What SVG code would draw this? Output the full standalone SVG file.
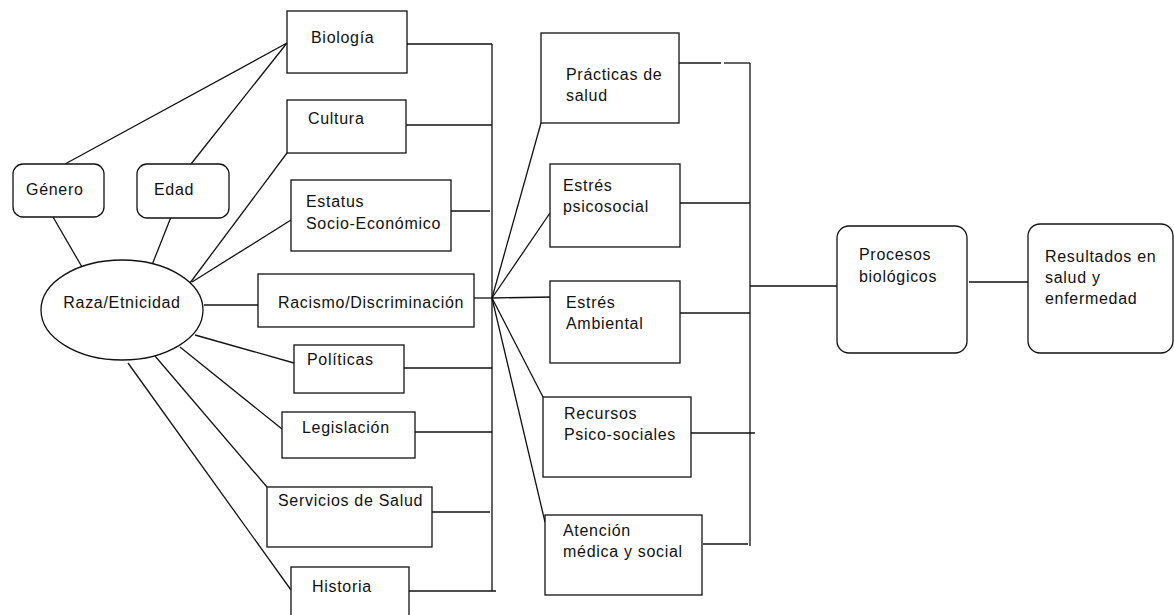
<svg xmlns="http://www.w3.org/2000/svg" width="1174" height="615" viewBox="0 0 1174 615">
<style>
.b{fill:#fff;stroke:#111;stroke-width:1.3}
.c line{stroke:#111;stroke-width:1.3;fill:none}
text{font-family:"Liberation Sans",Arial,sans-serif;font-size:16px;fill:#111;letter-spacing:0.7px}
</style>
<rect width="1174" height="615" fill="#fff"/>
<g class="c" id="connectors">
<line x1="65" y1="164" x2="287" y2="43"/>
<line x1="191" y1="164" x2="287" y2="43"/>
<line x1="53" y1="217" x2="82" y2="267"/>
<line x1="171" y1="217" x2="152" y2="265"/>
<line x1="287" y1="153" x2="190" y2="283"/>
<line x1="291" y1="220" x2="192" y2="282"/>
<line x1="204" y1="305" x2="258" y2="305"/>
<line x1="195" y1="335" x2="294" y2="363"/>
<line x1="180" y1="347" x2="282" y2="429"/>
<line x1="155" y1="356" x2="267" y2="487"/>
<line x1="128" y1="363" x2="291" y2="590"/>
<line x1="407" y1="44" x2="492" y2="44"/>
<line x1="492" y1="44" x2="492" y2="591"/>
<line x1="406" y1="125" x2="492" y2="125"/>
<line x1="451" y1="211" x2="490" y2="211"/>
<line x1="474" y1="298" x2="492" y2="298"/>
<line x1="404" y1="368" x2="492" y2="368"/>
<line x1="413" y1="432" x2="492" y2="432"/>
<line x1="432" y1="512" x2="490" y2="512"/>
<line x1="409" y1="591" x2="496" y2="591"/>
<line x1="492" y1="298" x2="541" y2="123"/>
<line x1="492" y1="298" x2="550" y2="213"/>
<line x1="492" y1="298" x2="553" y2="297"/>
<line x1="492" y1="298" x2="543" y2="397"/>
<line x1="492" y1="298" x2="545" y2="522"/>
<line x1="750" y1="63" x2="750" y2="546"/>
<line x1="679" y1="63" x2="721" y2="63"/>
<line x1="724" y1="63" x2="750" y2="63"/>
<line x1="680" y1="203" x2="750" y2="203"/>
<line x1="679" y1="313" x2="750" y2="313"/>
<line x1="691" y1="433" x2="755" y2="433"/>
<line x1="703" y1="544" x2="748" y2="544"/>
<line x1="750" y1="286" x2="837" y2="286"/>
<line x1="969" y1="282" x2="1028" y2="282"/>
</g>
<g id="genero"><rect class="b" x="13" y="164" width="91" height="53" rx="10"/><text x="26" y="195">Género</text></g>
<g id="edad"><rect class="b" x="137" y="164" width="92" height="54" rx="10"/><text x="154" y="195">Edad</text></g>
<g id="raza"><ellipse class="b" cx="122" cy="310" rx="81" ry="50"/><text x="122" y="308" text-anchor="middle">Raza/Etnicidad</text></g>
<g id="biologia"><rect class="b" x="287" y="11" width="120" height="62"/><text x="311" y="43">Biología</text></g>
<g id="cultura"><rect class="b" x="287" y="100" width="119" height="53"/><text x="308" y="124">Cultura</text></g>
<g id="estatus"><rect class="b" x="291" y="180" width="160" height="71"/><text x="306" y="207">Estatus</text><text x="306" y="229">Socio-Económico</text></g>
<g id="racismo"><rect class="b" x="258" y="274" width="216" height="53"/><text x="278" y="308">Racismo/Discriminación</text></g>
<g id="politicas"><rect class="b" x="294" y="345" width="110" height="48"/><text x="307" y="365">Políticas</text></g>
<g id="legislacion"><rect class="b" x="282" y="412" width="133" height="46"/><text x="302" y="433">Legislación</text></g>
<g id="servicios"><rect class="b" x="267" y="487" width="165" height="60"/><text x="278" y="506">Servicios de Salud</text></g>
<g id="historia"><rect class="b" x="291" y="567" width="118" height="70"/><text x="312" y="592">Historia</text></g>
<g id="practicas"><rect class="b" x="541" y="33" width="138" height="90"/><text x="566" y="80">Prácticas de</text><text x="566" y="101">salud</text></g>
<g id="psicosocial"><rect class="b" x="550" y="164" width="130" height="83"/><text x="563" y="191">Estrés</text><text x="563" y="212">psicosocial</text></g>
<g id="ambiental"><rect class="b" x="550" y="281" width="130" height="82"/><text x="566" y="308">Estrés</text><text x="566" y="329">Ambiental</text></g>
<g id="recursos"><rect class="b" x="543" y="397" width="148" height="80"/><text x="564" y="419">Recursos</text><text x="564" y="440">Psico-sociales</text></g>
<g id="atencion"><rect class="b" x="545" y="515" width="157" height="80"/><text x="563" y="536">Atención</text><text x="563" y="557">médica y social</text></g>
<g id="procesos"><rect class="b" x="837" y="226" width="130" height="127" rx="12"/><text x="859" y="260">Procesos</text><text x="859" y="282">biológicos</text></g>
<g id="resultados"><rect class="b" x="1028" y="224" width="145" height="129" rx="12"/><text x="1045" y="262">Resultados en</text><text x="1045" y="283">salud y</text><text x="1045" y="304">enfermedad</text></g>
</svg>
